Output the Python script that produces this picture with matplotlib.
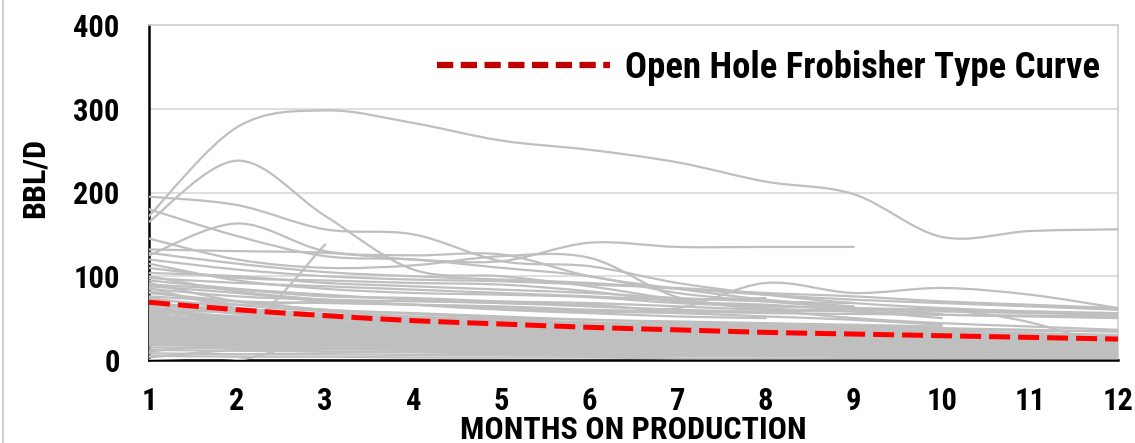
import numpy as np
import matplotlib
matplotlib.use("Agg")
import matplotlib.pyplot as plt
from matplotlib.path import Path
from matplotlib.patches import PathPatch
from matplotlib.lines import Line2D

FONTS = ["Roboto Condensed", "Asap Condensed", "Barlow Semi Condensed", "DejaVu Sans"]
plt.rcParams["font.family"] = FONTS
plt.rcParams["font.weight"] = "bold"

months = list(range(1, 13))

type_curve = [69, 60, 53, 47, 43, 39, 36, 33, 31, 29, 27, 25]

# Wells with the highest rates
upper_wells = [
    [172, 278, 298, 283, 262, 251, 236, 213, 198, 147, 154, 156],
    [165, 238, 172, 108, 100, 88, 72, 60, 50, 44, 40, 36],
    [195, 185, 156, 150, 118, 112, 92, 78, 68, 62, 58, 55],
    [180, 148, 124, 120, 110, 100, 80, 70, 62, 55],
    [125, 163, 130, 125, 126, 100, 85, 72, 64],
    [132, 130, 128, 120, 118, 140, 135, 135, 135],
    [145, 120, 110, 113, 124, 122, 75, 62, 58, 54, 52, 50],
    [60, 35, 138],
]

# Wells in the middle range
middle_wells = [
    [128, 115, 105, 100, 96, 92, 85, 78, 72, 68, 64, 60],
    [120, 108, 100, 96, 94, 90, 86, 80, 76, 70, 66, 62],
    [110, 98, 95, 92, 90, 82, 70, 66, 60, 58, 56, 54],
    [104, 100, 92, 88, 84, 80, 74, 70, 68],
    [98, 92, 88, 84, 80, 76, 72, 74],
    [95, 85, 78, 72, 68, 66, 62, 92, 80, 86, 78, 62],
    [90, 84, 76, 74, 70, 68, 64, 60, 58, 50],
    [88, 80, 70, 66, 62, 58, 56, 52, 48, 42],
    [85, 76, 72, 70, 68, 64, 60, 58, 60, 60, 45, 12],
    [82, 66, 58, 52, 48, 45, 42, 40, 38, 36, 35, 34],
    [80, 70, 60, 56, 52, 48, 46, 44, 42, 40],
    [76, 70, 68, 66, 64, 60, 58, 56, 55, 54, 53, 52],
    [72, 66, 70],
    [115, 95, 85, 80, 78, 75, 68, 64, 62, 60, 58, 56],
    [100, 82, 72, 66, 60, 56, 52, 50],
    [92, 70, 60, 55, 50, 48, 44, 42, 40, 38, 36, 34],
    [86, 62, 52, 48, 44, 40, 38, 36],
]

# Wells in the dense low-rate band
lower_wells = [
    [68, 60, 55, 50, 46, 43, 40, 38, 36, 34, 32, 30],
    [65, 58, 52, 49, 45, 44, 40, 36, 35, 32, 30, 29],
    [62, 56, 50, 46, 42, 40, 37, 35, 33, 31, 29, 27],
    [60, 52, 48, 44, 40, 38, 36, 34, 32, 30, 28],
    [58, 50, 45, 42, 40, 37, 35, 33, 31, 29, 28, 26],
    [55, 48, 44, 41, 38, 35, 33, 31, 30, 28, 27, 25],
    [52, 46, 42, 38, 36, 34, 32, 30, 29, 27, 26, 24],
    [50, 44, 40, 37, 34, 32, 30, 28, 27, 26, 25, 23],
    [48, 42, 38, 35, 33, 31, 29, 27, 26, 25, 24, 22],
    [46, 40, 37, 34, 32, 30, 28, 26, 25, 24, 23, 21],
    [44, 39, 35, 33, 30, 29, 27, 25, 24, 23, 22, 20],
    [42, 37, 34, 31, 29, 27, 26, 24, 23, 22, 21, 19],
    [40, 36, 32, 30, 28, 26, 25, 23, 22, 21, 20, 18],
    [38, 34, 31, 29, 27, 25, 24, 22, 21, 20, 19, 17],
    [36, 32, 30, 28, 26, 24, 23, 21, 20, 19, 18, 16],
    [34, 30, 28, 26, 24, 23, 21, 20, 19, 18, 17, 15],
    [32, 29, 27, 25, 23, 22, 20, 19, 18, 17, 16, 14],
    [30, 27, 25, 23, 22, 20, 19, 18, 17, 16, 15, 13],
    [28, 25, 23, 22, 20, 19, 18, 17, 16, 15, 14, 12],
    [26, 24, 22, 20, 19, 18, 17, 16, 15, 14, 13, 11],
    [24, 22, 20, 19, 18, 17, 16, 15, 14, 13, 12, 10],
    [22, 20, 18, 17, 16, 15, 14, 13, 12, 11, 10, 9],
    [20, 18, 17, 16, 15, 14, 13, 12, 11, 10, 9, 8],
    [18, 16, 15, 14, 13, 12, 11, 10, 10, 9, 8, 7],
    [15, 14, 13, 12, 11, 10, 10, 9, 8, 8, 7, 6],
    [12, 11, 10, 10, 9, 8, 8, 7, 7, 6, 6, 5],
    [8, 7, 7, 6, 6, 5, 5, 5, 4, 4, 4, 3],
    [0, 0, 25, 22, 20, 18, 16, 15, 14],
    [5, 4, 4, 3, 3, 3, 2, 2, 2, 2, 2, 2],
    [64, 45, 38, 40, 36, 30, 26, 28, 24, 20],
    [56, 58, 50, 44, 47, 41, 36, 30, 26, 22, 20, 18],
    [45, 30, 32, 28, 25, 27, 22, 18, 20, 17, 15, 14],
    [38, 42, 36, 30, 26, 22, 24, 20, 18, 15],
    [70, 55, 46, 40, 35, 33, 30, 27],
    [54, 40, 33, 30, 28, 24, 21, 19, 17, 16, 15, 14],
    [27, 30, 26, 21, 18, 16, 14, 12, 11, 10, 9, 9],
    [35, 28, 24, 20, 17, 15, 13, 12],
    [48, 50, 45, 43, 40, 36, 33, 32, 30, 28, 26, 25],
    [10, 20, 18, 16, 14, 12, 11, 10, 9, 8],
    [62, 48, 42, 36, 34, 31, 29, 25, 22, 21, 20, 19],
    [3, 12, 10, 9, 8, 7, 6, 6, 5, 5, 5, 4],
    [74, 62, 55, 46, 40, 38, 34, 31, 28, 26, 24, 23],
]

GREY = "#BFBFBF"


def smooth_path(xs, ys):
    """Bezier path through the points, like a spreadsheet 'smoothed line'."""
    pts = np.column_stack([xs, ys]).astype(float)
    n = len(pts)
    verts = [tuple(pts[0])]
    codes = [Path.MOVETO]
    for i in range(n - 1):
        p0 = pts[i - 1] if i > 0 else pts[i]
        p1 = pts[i]
        p2 = pts[i + 1]
        p3 = pts[i + 2] if i + 2 < n else pts[i + 1]
        c1 = p1 + (p2 - p0) / 6.0
        c2 = p2 - (p3 - p1) / 6.0
        verts += [tuple(c1), tuple(c2), tuple(p2)]
        codes += [Path.CURVE4] * 3
    return Path(verts, codes)


fig = plt.figure(figsize=(11.35, 4.43), dpi=100)
ax = fig.add_axes([149 / 1135, 1 - 360 / 443, (1118 - 149) / 1135, (360 - 25) / 443])

for group in (lower_wells, middle_wells, upper_wells):
    for well in group:
        path = smooth_path(months[:len(well)], well)
        ax.add_patch(PathPatch(path, fill=False, edgecolor=GREY, lw=1.6,
                               zorder=3, capstyle="round", joinstyle="round"))

tc_path = smooth_path(months, type_curve)
ax.add_patch(PathPatch(tc_path, fill=False, edgecolor="#FF0000", lw=3.6,
                       linestyle=(0, (4.2, 1.6)), zorder=5))

ax.set_xlim(1, 12)
ax.set_ylim(0, 400)
ax.set_xticks(months)
ax.set_yticks([0, 100, 200, 300, 400])
ax.tick_params(axis="both", length=0, labelsize=22)
ax.tick_params(axis="y", pad=21)
ax.tick_params(axis="x", pad=19)
for lab in ax.get_xticklabels() + ax.get_yticklabels():
    lab.set_fontweight("bold")

ax.set_axisbelow(True)
ax.grid(axis="y", color="#D9D9D9", lw=1.2)
ax.grid(axis="x", visible=False)
for side in ("top", "right"):
    ax.spines[side].set_color("#D0D0D0")
    ax.spines[side].set_linewidth(1.2)
for side in ("left", "bottom"):
    ax.spines[side].set_color("black")
    ax.spines[side].set_linewidth(1.8)
    ax.spines[side].set_zorder(2.5)

fig.text(35 / 1135, 1 - 178 / 443, "BBL/D", rotation=90, ha="center",
         va="center", fontsize=23, fontweight="bold")
fig.text(633 / 1135, 1 - 415 / 443, "MONTHS ON PRODUCTION", ha="center",
         va="top", fontsize=23, fontweight="bold")

handle = Line2D([], [], color="#C00000", lw=4.5, linestyle=(0, (2.6, 1.2)))
fig.legend([handle], ["Open Hole Frobisher Type Curve"],
           loc="center left", bbox_to_anchor=(437 / 1135, 1 - 68 / 443),
           frameon=False, borderpad=0, borderaxespad=0,
           handlelength=4.7, handletextpad=0.42,
           prop={"size": 26.5, "weight": "bold", "family": FONTS})

fig.add_artist(Line2D([2.5 / 1135, 2.5 / 1135], [0, 1], color="#D0D0D0", lw=1.5,
                      transform=fig.transFigure))

fig.savefig("out.png", dpi=100)
